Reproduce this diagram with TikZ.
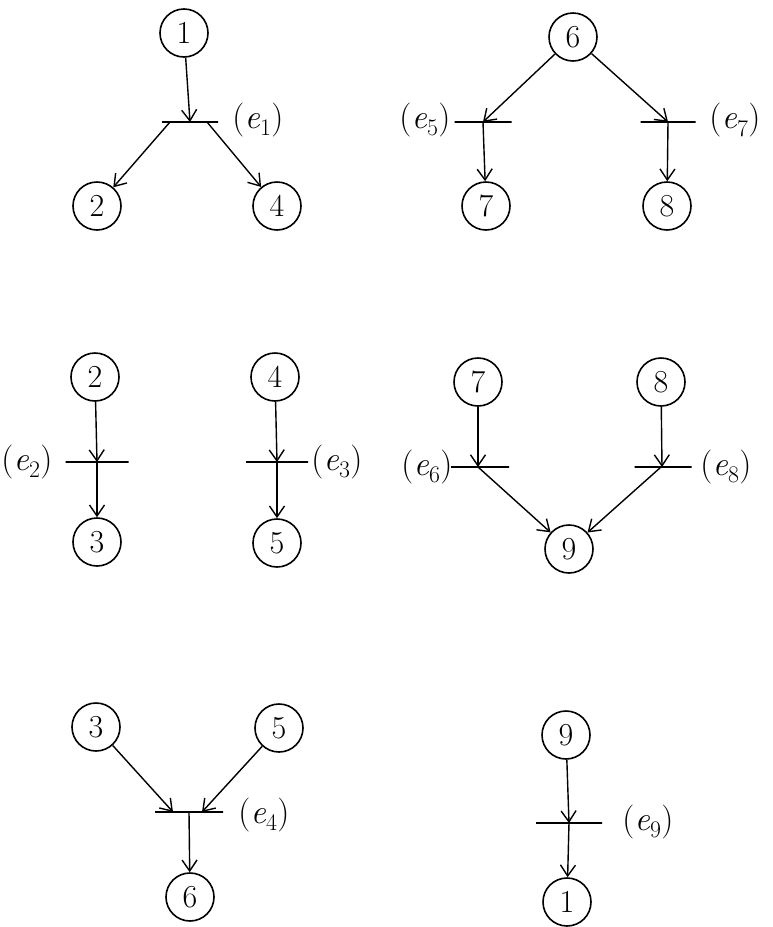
\documentclass[tikz,border=0pt]{standalone}
\usetikzlibrary{arrows.meta}
\newcommand{\elab}[1]{(\textit{e}\textsubscript{#1})}
\begin{document}
\begin{tikzpicture}[x=1pt,y=-1pt,
  place/.style={circle,draw,line width=1.6pt,minimum size=48pt,inner sep=0pt,font=\fontsize{32}{34}\selectfont},
  bar/.style={rectangle,draw,line width=1.4pt,minimum height=0pt,inner sep=0pt,outer sep=0pt},
  lbl/.style={font=\fontsize{34}{38}\selectfont,inner sep=0pt},
  arc/.style={line width=1.4pt,-{Straight Barb[length=11pt,width=15pt,line width=1.4pt]}}]
\useasboundingbox (0,0) rectangle (773,927);
\fill[white] (0,0) rectangle (773,927);
% ---- top left
\node[place] (p1) at (184,33) {1};
\node[bar,minimum width=56pt] (t1) at (190,122) {};
\node[place] (p2a) at (97,206) {2};
\node[place] (p4a) at (277,206) {4};
\node[lbl] (l1) at (258,120) {\elab{1}};
\draw[arc] (p1) -- (t1.center);
\draw[arc] ([xshift=-20pt]t1.center) -- (p2a);
\draw[arc] ([xshift=17pt]t1.center) -- (p4a);
% ---- top right
\node[place] (p6a) at (573,37) {6};
\node[bar,minimum width=57pt] (t5) at (483,122) {};
\node[bar,minimum width=55pt] (t7) at (668,122) {};
\node[place] (p7a) at (486,206) {7};
\node[place] (p8a) at (667,206) {8};
\node[lbl] (l5) at (425,120) {\elab{5}};
\node[lbl] (l7) at (735,120) {\elab{7}};
\draw[arc] (p6a) -- (t5.center);
\draw[arc] (p6a) -- (t7.center);
\draw[arc] (t5.center) -- (p7a);
\draw[arc] (t7.center) -- (p8a);
% ---- middle left
\node[place] (p2b) at (95,377) {2};
\node[bar,minimum width=63pt] (t2) at (97,462) {};
\node[place] (p3a) at (97,542) {3};
\node[lbl] (l2) at (27,462) {\elab{2}};
\draw[arc] (p2b) -- (t2.center);
\draw[arc] (t2.center) -- (p3a);
\node[place] (p4b) at (275,377) {4};
\node[bar,minimum width=62pt] (t3) at (277,462) {};
\node[place] (p5a) at (277,543) {5};
\node[lbl] (l3) at (337,462) {\elab{3}};
\draw[arc] (p4b) -- (t3.center);
\draw[arc] (t3.center) -- (p5a);
% ---- middle right
\node[place] (p7b) at (478,382) {7};
\node[bar,minimum width=58pt] (t6) at (480,467) {};
\node[place] (p8b) at (661,382) {8};
\node[bar,minimum width=57pt] (t8) at (663,467) {};
\node[place] (p9a) at (569,549) {9};
\node[lbl] (l6) at (427,467) {\elab{6}};
\node[lbl] (l8) at (726,467) {\elab{8}};
\draw[arc] (p7b) -- ([xshift=-2pt]t6.center);
\draw[arc] ([xshift=-2pt]t6.center) -- (p9a);
\draw[arc] (p8b) -- ([xshift=-1pt]t8.center);
\draw[arc] ([xshift=-2pt]t8.center) -- (p9a);
% ---- bottom left
\node[place] (p3b) at (96,727) {3};
\node[place] (p5b) at (279,728) {5};
\node[bar,minimum width=68pt] (t4) at (189,812) {};
\node[place] (p6b) at (190,897) {6};
\node[lbl] (l4) at (264,815) {\elab{4}};
\draw[arc] (p3b) -- ([xshift=-16pt]t4.center);
\draw[arc] (p5b) -- ([xshift=13pt]t4.center);
\draw[arc] (t4.center) -- (p6b);
% ---- bottom right
\node[place] (p9b) at (566,735) {9};
\node[bar,minimum width=66pt] (t9) at (569,823) {};
\node[place] (p1b) at (567,902) {1};
\node[lbl] (l9) at (648,822) {\elab{9}};
\draw[arc] (p9b) -- (t9.center);
\draw[arc] (t9.center) -- (p1b);
\end{tikzpicture}
\end{document}
